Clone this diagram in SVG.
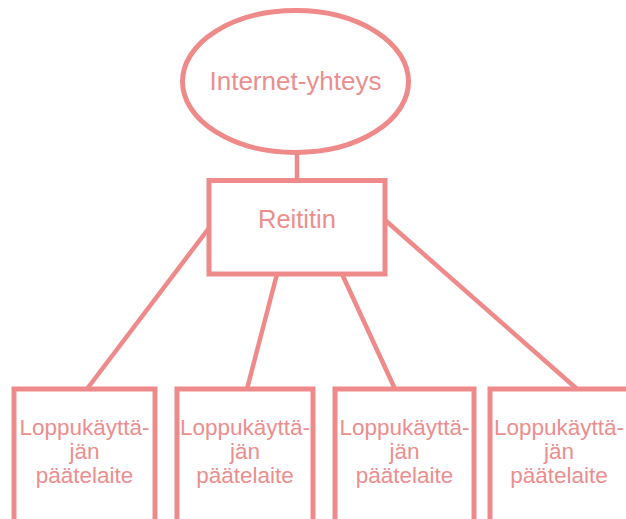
<svg xmlns="http://www.w3.org/2000/svg" width="626" height="519" viewBox="0 0 626 519">
  <style>
    .shape { fill: #ffffff; stroke: #EE8A8A; stroke-width: 5; }
    .conn { stroke: #EE8A8A; stroke-width: 4.5; fill: none; }
    .lbl { font-family: "Liberation Sans", Arial, sans-serif; fill: #EC8E8E; text-anchor: middle; }
    .big { font-size: 26px; }
    .mid { font-size: 25.5px; }
    .small { font-size: 22.5px; }
  </style>
  <rect width="626" height="519" fill="#ffffff"/>
  <g id="connectors">
    <line class="conn" x1="297" y1="152" x2="297" y2="181"/>
    <line class="conn" x1="209" y1="228" x2="87" y2="389"/>
    <line class="conn" x1="277" y1="274" x2="247" y2="389"/>
    <line class="conn" x1="342" y1="274" x2="395" y2="389"/>
    <line class="conn" x1="385" y1="220" x2="577" y2="389"/>
  </g>
  <g id="internet">
    <ellipse class="shape" cx="295.5" cy="81.5" rx="113" ry="71"/>
    <text class="lbl big" x="295.5" y="90">Internet-yhteys</text>
  </g>
  <g id="reititin">
    <rect class="shape" x="209" y="180.5" width="176" height="93.5"/>
    <text class="lbl mid" x="297" y="228">Reititin</text>
  </g>
  <g id="laite1">
    <rect class="shape" x="14" y="389" width="141" height="150"/>
    <text class="lbl small" x="84.5" y="435">Loppukäyttä-</text>
    <text class="lbl small" x="84.5" y="459">jän</text>
    <text class="lbl small" x="84.5" y="483">päätelaite</text>
  </g>
  <g id="laite2">
    <rect class="shape" x="177" y="389" width="136" height="150"/>
    <text class="lbl small" x="245" y="435">Loppukäyttä-</text>
    <text class="lbl small" x="245" y="459">jän</text>
    <text class="lbl small" x="245" y="483">päätelaite</text>
  </g>
  <g id="laite3">
    <rect class="shape" x="335" y="389" width="139" height="150"/>
    <text class="lbl small" x="404.5" y="435">Loppukäyttä-</text>
    <text class="lbl small" x="404.5" y="459">jän</text>
    <text class="lbl small" x="404.5" y="483">päätelaite</text>
  </g>
  <g id="laite4">
    <rect class="shape" x="490" y="389" width="140" height="150"/>
    <text class="lbl small" x="559" y="435">Loppukäyttä-</text>
    <text class="lbl small" x="559" y="459">jän</text>
    <text class="lbl small" x="559" y="483">päätelaite</text>
  </g>
</svg>
